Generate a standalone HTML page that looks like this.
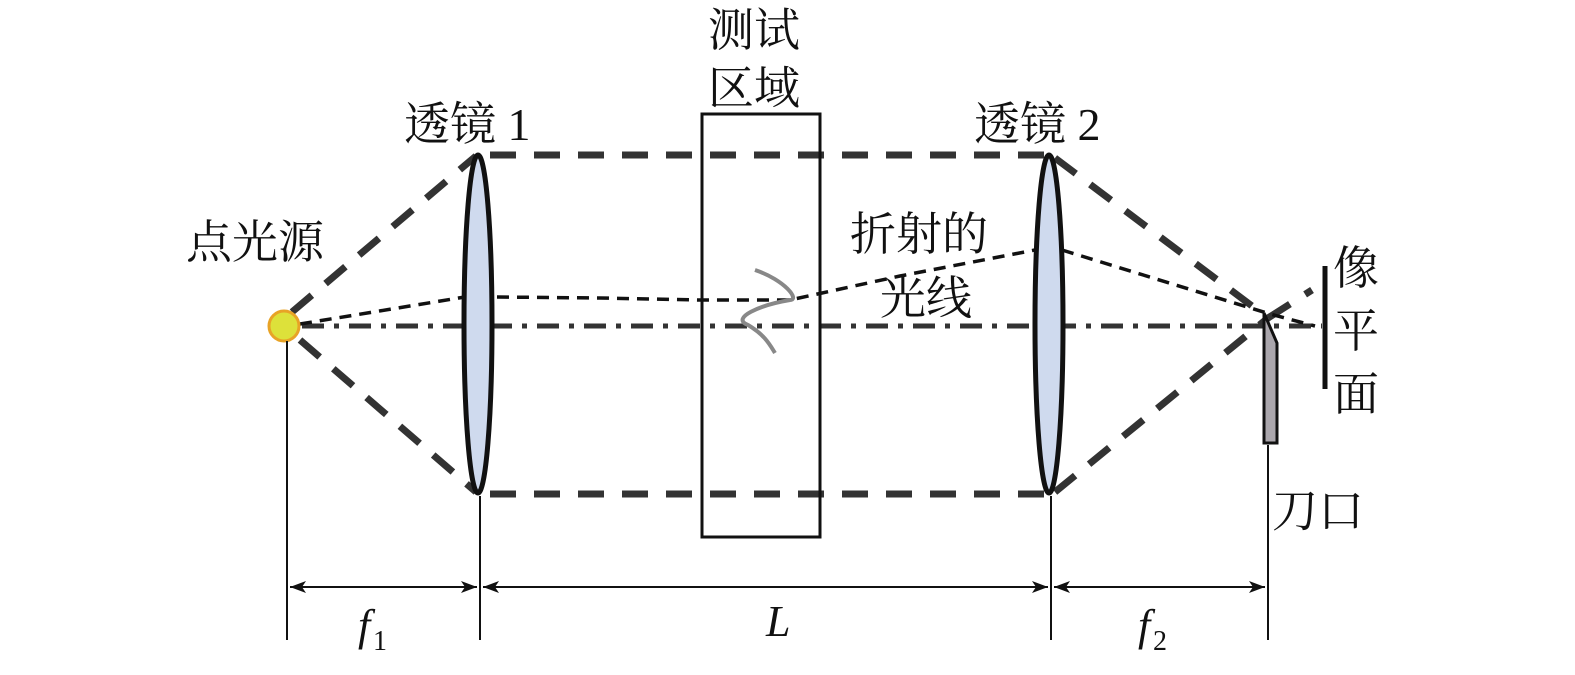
<!DOCTYPE html>
<html><head><meta charset="utf-8"><style>
body{margin:0;background:#fff}
text{font-family:"Liberation Serif","Noto Serif CJK SC",serif;fill:#111}
</style></head><body>
<svg width="1575" height="670" viewBox="0 0 1575 670" xmlns="http://www.w3.org/2000/svg">
<defs>
<marker id="a" markerWidth="16" markerHeight="12" refX="16" refY="6" orient="auto" markerUnits="userSpaceOnUse"><path d="M0,0 L16,6 L0,12 L4,6 Z" fill="#111"/></marker>
</defs>
<g stroke="#333" fill="none">
<g stroke-width="7" stroke-dasharray="26,18">
<line x1="292" y1="312" x2="476" y2="156"/>
<line x1="300" y1="340" x2="476" y2="492"/>
<line x1="490" y1="155" x2="1046" y2="155"/>
<line x1="490" y1="494" x2="1046" y2="494"/>
<line x1="1055" y1="158" x2="1268" y2="318"/>
<line x1="1055" y1="492" x2="1268" y2="318"/>
<line x1="1268" y1="318" x2="1312" y2="290"/>
</g>
<line x1="302" y1="326" x2="1322" y2="326" stroke-width="5" stroke-dasharray="22,10,5,10"/>
<g stroke-width="3.5" stroke-dasharray="12,8" stroke="#111">
<polyline points="300,324 465,297"/>
<polyline points="497,297 600,298 700,300 790,300 900,276 1035,250"/>
<polyline points="1062,250 1270,314 1315,326"/>
</g>
</g>
<path d="M755,270 C785,280 800,300 790,300 C760,305 730,318 748,325 C765,335 770,345 775,353" stroke="#888" stroke-width="4" fill="none"/>
<rect x="702" y="114" width="118" height="423" fill="none" stroke="#111" stroke-width="3"/>
<ellipse cx="478" cy="324" rx="14" ry="169" fill="#cfdaee" stroke="#111" stroke-width="5"/>
<ellipse cx="1049" cy="324" rx="14" ry="169" fill="#cfdaee" stroke="#111" stroke-width="5"/>
<circle cx="284" cy="326" r="15" fill="#dde13a" stroke="#e8a326" stroke-width="3"/>
<path d="M1264,313 L1264,443 L1277,443 L1277,343 Z" fill="#aaa6ac" stroke="#111" stroke-width="3"/>
<line x1="1325" y1="266" x2="1325" y2="389" stroke="#111" stroke-width="5"/>
<g stroke="#111" stroke-width="2">
<line x1="287" y1="341" x2="287" y2="640"/>
<line x1="480" y1="496" x2="480" y2="640"/>
<line x1="1051" y1="496" x2="1051" y2="640"/>
<line x1="1268" y1="445" x2="1268" y2="640"/>
<line x1="290" y1="587" x2="477" y2="587" marker-end="url(#a)"/>
<line x1="477" y1="587" x2="290" y2="587" marker-end="url(#a)"/>
<line x1="483" y1="587" x2="1048" y2="587" marker-end="url(#a)"/>
<line x1="1048" y1="587" x2="483" y2="587" marker-end="url(#a)"/>
<line x1="1054" y1="587" x2="1265" y2="587" marker-end="url(#a)"/>
<line x1="1265" y1="587" x2="1054" y2="587" marker-end="url(#a)"/>
</g>
<g font-size="46">
<text x="186" y="258">点光源</text>
<text x="404" y="140">透镜 1</text>
<text x="974" y="140">透镜 2</text>
<text x="708" y="46">测试</text>
<text x="708" y="104">区域</text>
<text x="850" y="250">折射的</text>
<text x="880" y="314">光线</text>
<text x="1333" y="284">像</text>
<text x="1333" y="347">平</text>
<text x="1333" y="410">面</text>
<text x="1272" y="527">刀口</text>
</g>
<g font-style="italic" font-size="44">
<text x="358" y="640">f</text><text x="373" y="650" font-size="28" font-style="normal">1</text>
<text x="766" y="636">L</text>
<text x="1138" y="640">f</text><text x="1153" y="650" font-size="28" font-style="normal">2</text>
</g>
</svg>
</body></html>
